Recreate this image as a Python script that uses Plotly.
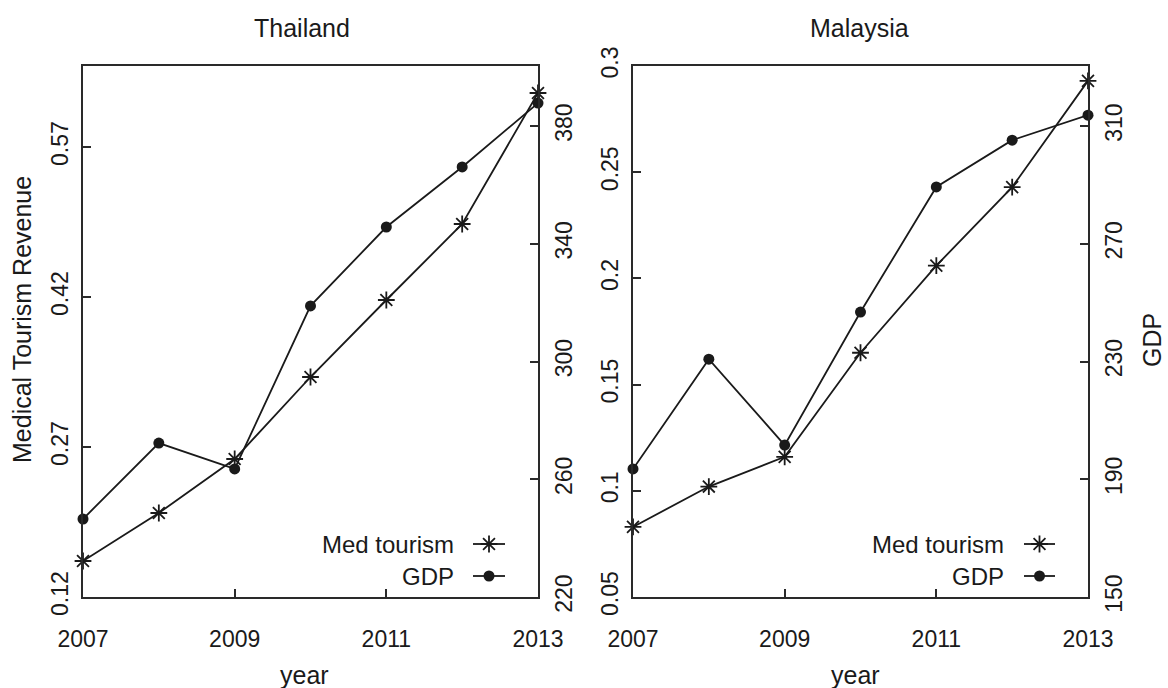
import plotly.graph_objects as go

# ---- data ---------------------------------------------------------------
years = [2007, 2008, 2009, 2010, 2011, 2012, 2013]

thai_med = [0.156, 0.204, 0.258, 0.340, 0.417, 0.493, 0.624]
thai_gdp = [246.5, 272.3, 263.5, 318.9, 345.7, 366.1, 387.8]

my_med = [0.083, 0.102, 0.116, 0.165, 0.206, 0.243, 0.293]
my_gdp = [193.5, 230.8, 201.6, 246.8, 289.3, 305.2, 313.7]

year_ticks = [2007, 2009, 2011, 2013]
thai_med_ticks = ["0.12", "0.27", "0.42", "0.57"]
thai_gdp_ticks = ["220", "260", "300", "340", "380"]
my_med_ticks = ["0.05", "0.1", "0.15", "0.2", "0.25", "0.3"]
my_gdp_ticks = ["150", "190", "230", "270", "310"]

# ---- styling ------------------------------------------------------------
W, H = 1168, 688
FONT = "Liberation Sans, Arial, sans-serif"
INK = "#1a1a1a"
AXIS = "#2a2a2a"
TICK_FS = 23
LABEL_FS = 25


def fx(p):
    return p / W


def fy(p):
    return 1 - p / H


PLOT_TOP, PLOT_BOTTOM = 66, 597
ydom = [fy(PLOT_BOTTOM), fy(PLOT_TOP)]
thai_dom = [fx(83), fx(538)]
my_dom = [fx(633), fx(1088)]

med_style = dict(mode="lines+markers",
                 line=dict(color=INK, width=1.8),
                 marker=dict(symbol="asterisk-open", size=14,
                             color=INK, line=dict(color=INK, width=1.8)),
                 cliponaxis=False, showlegend=False)
gdp_style = dict(mode="lines+markers",
                 line=dict(color=INK, width=1.8),
                 marker=dict(symbol="circle", size=11, color=INK),
                 cliponaxis=False, showlegend=False)

fig = go.Figure()
fig.add_trace(go.Scatter(x=years, y=thai_med, xaxis="x", yaxis="y", **med_style))
fig.add_trace(go.Scatter(x=years, y=thai_gdp, xaxis="x", yaxis="y2", **gdp_style))
fig.add_trace(go.Scatter(x=years, y=my_med, xaxis="x2", yaxis="y3", **med_style))
fig.add_trace(go.Scatter(x=years, y=my_gdp, xaxis="x2", yaxis="y4", **gdp_style))


def legend_key(x_left, x_right, y, style):
    """Short line with a marker in its middle, drawn on the page-wide overlay axes."""
    s = dict(style)
    s["mode"] = "lines"
    fig.add_trace(go.Scatter(x=[fx(x_left), fx(x_right)], y=[fy(y), fy(y)],
                             xaxis="x3", yaxis="y5", **s))
    s = dict(style)
    s["mode"] = "markers"
    fig.add_trace(go.Scatter(x=[fx((x_left + x_right) / 2)], y=[fy(y)],
                             xaxis="x3", yaxis="y5", **s))


legend_rows = [("Med tourism", 544, med_style), ("GDP", 576, gdp_style)]
annotations = []
for text_right, key_left, key_right in [(456, 473, 505), (1006, 1024, 1055)]:
    for label, y, style in legend_rows:
        legend_key(key_left, key_right, y, style)
        annotations.append(dict(text=label, x=fx(text_right), y=fy(y),
                                xref="paper", yref="paper", xanchor="right",
                                yanchor="middle", showarrow=False,
                                font=dict(size=LABEL_FS - 1, color=INK)))

# panel titles, axis titles
for text, x, y, angle in [("Thailand", 302, 28, 0), ("Malaysia", 860, 28, 0),
                          ("year", 304, 675, 0), ("year", 855, 675, 0),
                          ("Medical Tourism Revenue", 22, 320, -90),
                          ("GDP", 1152, 340, -90)]:
    annotations.append(dict(text=text, x=fx(x), y=fy(y), xref="paper",
                            yref="paper", xanchor="center", yanchor="middle",
                            textangle=angle, showarrow=False,
                            font=dict(size=LABEL_FS, color=INK)))

common = dict(showline=True, linecolor=AXIS, linewidth=2, ticks="inside",
              ticklen=8, tickwidth=2, tickcolor=AXIS, showgrid=False,
              zeroline=False, tickfont=dict(size=TICK_FS, color=INK))


def xaxis(domain, anchor):
    return dict(domain=domain, anchor=anchor, range=[2007, 2013],
                tickvals=year_ticks, ticktext=[str(v) for v in year_ticks],
                mirror=True, ticklabelstandoff=20, **common)


def yaxis(ticks, rng, anchor, side, overlaying=None):
    d = dict(domain=ydom, anchor=anchor, range=rng, side=side,
             tickvals=[float(t) for t in ticks], ticktext=ticks,
             tickangle=-90, ticklabelstandoff=4, **common)
    if overlaying:
        d["overlaying"] = overlaying
    return d


fig.update_layout(
    width=W, height=H,
    margin=dict(l=0, r=0, t=0, b=0, autoexpand=False),
    paper_bgcolor="white", plot_bgcolor="rgba(0,0,0,0)",
    font=dict(family=FONT, color=INK),
    showlegend=False,
    xaxis=xaxis(thai_dom, "y"),
    yaxis=yaxis(thai_med_ticks, [0.12, 0.651], "x", "left"),
    yaxis2=yaxis(thai_gdp_ticks, [220, 400.4], "x", "right", "y"),
    xaxis2=xaxis(my_dom, "y3"),
    yaxis3=yaxis(my_med_ticks, [0.05, 0.30], "x2", "left"),
    yaxis4=yaxis(my_gdp_ticks, [150, 330.4], "x2", "right", "y3"),
    xaxis3=dict(domain=[0, 1], range=[0, 1], visible=False, anchor="y5",
                fixedrange=True),
    yaxis5=dict(domain=[0, 1], range=[0, 1], visible=False, anchor="x3",
                fixedrange=True),
    annotations=annotations,
)

fig.write_html("out.html")
